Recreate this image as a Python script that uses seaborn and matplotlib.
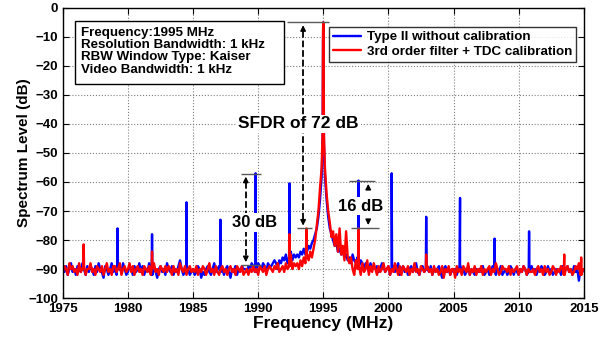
import numpy as np
import pandas as pd
import matplotlib
matplotlib.use('Agg')
import matplotlib.pyplot as plt
from matplotlib.patches import Rectangle
import seaborn as sns

# frequency grid of the noise floor (MHz), 0.125 MHz step
freq = np.arange(1975.0, 2015.001, 0.125)

# noise floor + carrier skirt (dB), one row = 2 MHz
blue_noise = [
    -90, -91, -89, -92, -90, -88, -91, -90, -92, -89, -90, -91, -88, -90, -92, -89,
    -91, -89, -90, -92, -89, -91, -88, -90, -91, -93, -89, -90, -92, -90, -88, -91,
    -90, -92, -89, -90, -91, -88, -90, -92, -91, -89, -90, -92, -89, -91, -90, -88,
    -91, -89, -92, -90, -91, -88, -90, -92, -89, -91, -93, -90, -89, -91, -90, -92,
    -88, -90, -91, -89, -92, -90, -91, -89, -87, -90, -92, -91, -89, -90, -92, -91,
    -90, -92, -91, -89, -90, -93, -91, -92, -90, -89, -91, -92, -90, -88, -91, -90,
    -89, -91, -90, -92, -90, -89, -91, -93, -90, -91, -89, -92, -90, -91, -89, -90,
    -90, -91, -89, -90, -88, -89, -91, -90, -88, -89, -90, -88, -89, -91, -88, -89,
    -89, -88, -87, -88, -90, -87, -88, -86, -87, -85, -88, -86, -84, -87, -85, -86,
    -85, -86, -84, -85, -83, -85, -84, -82, -83, -81, -80, -78, -76, -72, -66, -58,
    -5, -58, -66, -72, -76, -78, -80, -82, -81, -84, -83, -85, -84, -86, -85, -87,
    -86, -88, -85, -87, -88, -86, -89, -87, -88, -90, -88, -89, -91, -88, -90, -89,
    -90, -89, -91, -90, -88, -89, -91, -90, -89, -92, -90, -89, -91, -90, -88, -92,
    -90, -89, -91, -90, -92, -90, -89, -91, -90, -88, -91, -92, -90, -89, -91, -90,
    -90, -91, -89, -92, -90, -91, -90, -89, -91, -93, -90, -89, -91, -90, -92, -90,
    -91, -90, -92, -90, -89, -91, -90, -92, -91, -89, -92, -90, -91, -92, -90, -91,
    -90, -91, -89, -92, -91, -90, -92, -91, -89, -91, -92, -90, -91, -89, -92, -91,
    -90, -92, -91, -89, -90, -92, -90, -91, -92, -90, -91, -89, -90, -92, -91, -90,
    -89, -91, -90, -92, -90, -91, -89, -90, -92, -91, -89, -91, -90, -92, -91, -90,
    -91, -90, -92, -89, -91, -90, -89, -91, -90, -92, -89, -91, -90, -94, -90, -91,
    -90,
]
red_noise = [
    -91, -89, -90, -92, -88, -90, -89, -91, -90, -92, -88, -91, -90, -89, -92, -90,
    -90, -88, -91, -90, -92, -89, -90, -91, -89, -92, -90, -88, -91, -90, -92, -89,
    -89, -91, -90, -88, -92, -90, -89, -91, -90, -88, -91, -89, -92, -90, -89, -91,
    -90, -92, -89, -90, -91, -89, -92, -90, -88, -91, -90, -92, -89, -90, -91, -89,
    -91, -89, -90, -92, -89, -91, -90, -92, -88, -90, -91, -89, -92, -90, -89, -91,
    -90, -91, -89, -92, -90, -91, -89, -90, -92, -90, -88, -91, -90, -92, -89, -91,
    -92, -90, -89, -91, -90, -92, -90, -89, -91, -90, -92, -89, -90, -91, -89, -92,
    -91, -90, -92, -90, -91, -89, -91, -90, -92, -89, -90, -91, -89, -92, -90, -89,
    -90, -91, -89, -90, -88, -91, -90, -89, -91, -88, -90, -89, -85, -90, -88, -89,
    -88, -90, -87, -89, -86, -88, -85, -87, -84, -86, -83, -80, -75, -70, -62, -55,
    -5, -55, -64, -70, -74, -79, -77, -82, -78, -84, -76, -85, -82, -87, -77, -86,
    -88, -86, -90, -92, -87, -90, -89, -92, -88, -91, -90, -87, -92, -89, -91, -88,
    -90, -92, -89, -91, -90, -88, -91, -90, -89, -92, -90, -91, -88, -90, -92, -89,
    -92, -89, -90, -91, -89, -92, -90, -91, -88, -91, -90, -92, -89, -90, -91, -90,
    -89, -91, -90, -92, -89, -91, -90, -92, -91, -89, -93, -90, -91, -89, -92, -90,
    -90, -93, -89, -91, -90, -92, -89, -90, -91, -88, -92, -90, -91, -89, -92, -90,
    -91, -89, -92, -90, -91, -90, -89, -92, -90, -91, -88, -90, -92, -91, -89, -90,
    -90, -91, -89, -92, -90, -91, -90, -89, -92, -90, -91, -89, -90, -92, -90, -91,
    -91, -90, -92, -90, -89, -91, -90, -92, -89, -91, -90, -92, -91, -89, -90, -92,
    -90, -91, -89, -90, -92, -90, -89, -91, -90, -92, -91, -89, -90, -88, -92, -91,
    -90,
]

# spurs (frequency MHz, peak level dB)
blue_spur_f = [1979.2, 1981.85, 1984.5, 1987.1, 1989.8, 1992.4,
               1997.7, 2000.25, 2002.9, 2005.5, 2008.15, 2010.8]
blue_spur_db = [-76, -78, -67, -73, -57, -60.5,
                -59.5, -57, -72, -65.5, -79.5, -77]
red_spur_f = [1976.6, 1981.85, 1992.4, 1993.7, 1997.7, 2002.9, 2013.5, 2014.8]
red_spur_db = [-81.5, -84, -78, -76, -76, -85, -85, -86]

# close-in carrier points
carrier_f = [1994.95, 1994.98, 1995.02, 1995.05]
blue_carrier_db = [-45, -12, -12, -47]
red_carrier_db = [-42, -8, -8, -44]

info_lines = ['Frequency:1995 MHz', 'Resolution Bandwidth: 1 kHz',
              'RBW Window Type: Kaiser', 'Video Bandwidth: 1 kHz']


def build_trace(noise, spur_f, spur_db, car_f, car_db, w=0.03):
    f = list(freq)
    v = list(noise)
    for sf, sd in zip(spur_f, spur_db):
        base = noise[int(np.argmin(np.abs(freq - sf)))]
        f += [sf - w, sf, sf + w]
        v += [base, sd, base]
    f += car_f
    v += car_db
    df = pd.DataFrame({'f': f, 'db': v}).sort_values('f')
    return df


blue_df = build_trace(blue_noise, blue_spur_f, blue_spur_db, carrier_f, blue_carrier_db)
red_df = build_trace(red_noise, red_spur_f, red_spur_db, carrier_f, red_carrier_db)

sns.set_theme(style='ticks')
plt.rcParams['font.family'] = ['Liberation Sans', 'DejaVu Sans']
plt.rcParams['font.weight'] = 'bold'
plt.rcParams['text.color'] = 'black'
plt.rcParams['axes.labelcolor'] = 'black'
plt.rcParams['xtick.color'] = 'black'
plt.rcParams['ytick.color'] = 'black'

fig = plt.figure(figsize=(6.1, 3.43), dpi=100)
ax = fig.add_axes([0.103, 0.131, 0.854, 0.846])

sns.lineplot(data=blue_df, x='f', y='db', color='#0000ff', linewidth=1.7,
             estimator=None, sort=False, ax=ax, label='Type II without calibration')
sns.lineplot(data=red_df, x='f', y='db', color='#ff0000', linewidth=1.7,
             estimator=None, sort=False, ax=ax, label='3rd order filter + TDC calibration')

ax.set_xlim(1975, 2015)
ax.set_ylim(-100, 0)
ax.set_xticks(np.arange(1975, 2016, 5))
ax.set_yticks(np.arange(-100, 1, 10))
ax.grid(True, linestyle=':', color='0.5', linewidth=0.8)
ax.tick_params(direction='in', top=True, right=True, labelsize=9.5, length=4, width=0.8,
               colors='black')
for lab in ax.get_xticklabels() + ax.get_yticklabels():
    lab.set_fontweight('bold')
for s in ax.spines.values():
    s.set_linewidth(1.0)
    s.set_color('black')
ax.set_xlabel('Frequency (MHz)', fontsize=12.5, fontweight='bold', labelpad=1, color='black')
ax.set_ylabel('Spectrum Level (dB)', fontsize=11, fontweight='bold', color='black')
ax.yaxis.set_label_coords(-0.061, 0.5)

leg = ax.legend(loc='upper right', bbox_to_anchor=(0.985, 0.934), fontsize=9.6,
                frameon=True, fancybox=False, handlelength=2.1, borderpad=0.3,
                labelspacing=0.15, handletextpad=0.4, borderaxespad=0.0)
leg.get_frame().set_edgecolor('black')
leg.get_frame().set_linewidth(1.0)
for t in leg.get_texts():
    t.set_fontweight('bold')
    t.set_color('black')

# info box (frame drawn as its own rectangle, MATLAB-style padding)
ax.add_patch(Rectangle((0.023, 0.738), 0.401, 0.217, transform=ax.transAxes,
                       facecolor='white', edgecolor='black', linewidth=1.0, zorder=4))
ax.text(0.035, 0.935, '\n'.join(info_lines), transform=ax.transAxes, fontsize=9.6,
        fontweight='bold', va='top', ha='left', linespacing=1.03, color='black', zorder=5)

ref_col = '0.35'
# SFDR annotation
ax.hlines(-5, 1992.2, 1995.4, color=ref_col, linewidth=1.0)
ax.hlines(-76, 1993.0, 1994.1, color=ref_col, linewidth=1.0)
ax.vlines(1993.45, -8, -73, color='black', linestyle='--', linewidth=1.3)
ax.annotate('', xy=(1993.45, -5), xytext=(1993.45, -9),
            arrowprops=dict(arrowstyle='-|>', color='black', lw=1.0, mutation_scale=8))
ax.annotate('', xy=(1993.45, -76), xytext=(1993.45, -72),
            arrowprops=dict(arrowstyle='-|>', color='black', lw=1.0, mutation_scale=8))
ax.text(1993.1, -40, 'SFDR of 72 dB', fontsize=12.5, fontweight='bold', ha='center', va='center',
        color='black', bbox=dict(boxstyle='square,pad=0.1', facecolor='white', edgecolor='none'))

# 30 dB annotation
ax.hlines([-57.2, -88.6], 1988.7, 1990.2, color=ref_col, linewidth=1.0)
ax.vlines(1989.05, -60, -86, color='black', linestyle='--', linewidth=1.3)
ax.annotate('', xy=(1989.05, -57.2), xytext=(1989.05, -61),
            arrowprops=dict(arrowstyle='-|>', color='black', lw=1.0, mutation_scale=8))
ax.annotate('', xy=(1989.05, -88.6), xytext=(1989.05, -85),
            arrowprops=dict(arrowstyle='-|>', color='black', lw=1.0, mutation_scale=8))
ax.text(1989.75, -74, '30 dB', fontsize=12, fontweight='bold', ha='center', va='center',
        color='black', bbox=dict(boxstyle='square,pad=0.1', facecolor='white', edgecolor='none'))

# 16 dB annotation
ax.hlines(-59.7, 1997.0, 1999.0, color=ref_col, linewidth=1.0)
ax.hlines(-75.8, 1997.15, 1999.25, color=ref_col, linewidth=1.0)
ax.text(1997.85, -68.3, '16 dB', fontsize=12, fontweight='bold', ha='center', va='center',
        color='black', bbox=dict(boxstyle='square,pad=0.1', facecolor='white', edgecolor='none'))
ax.annotate('', xy=(1998.45, -59.7), xytext=(1998.45, -63.5),
            arrowprops=dict(arrowstyle='-|>', color='black', lw=1.0, mutation_scale=8))
ax.annotate('', xy=(1998.45, -75.8), xytext=(1998.45, -72),
            arrowprops=dict(arrowstyle='-|>', color='black', lw=1.0, mutation_scale=8))

fig.savefig('out.png', dpi=100)
